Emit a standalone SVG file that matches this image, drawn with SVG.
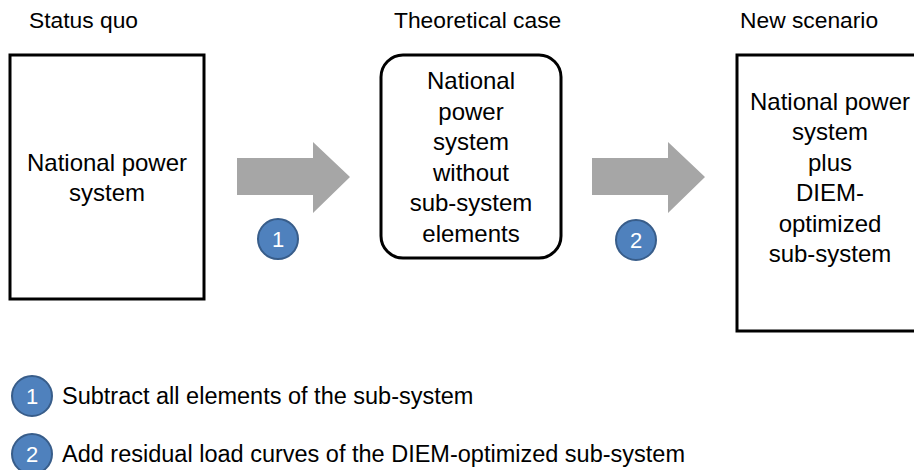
<svg xmlns="http://www.w3.org/2000/svg" width="914" height="470" viewBox="0 0 914 470">
<style>
  text { font-family: "Liberation Sans", Arial, sans-serif; fill: #000; }
  .title { font-size: 22.8px; }
  .body { font-size: 24px; text-anchor: middle; }
  .legend { font-size: 23.5px; }
  .box { fill: #fff; stroke: #000; stroke-width: 3; }
  .arrow { fill: #a6a6a6; }
  .badge circle { fill: #4f81bd; stroke: #385d8a; stroke-width: 2; }
  .badge text { fill: #fff; font-size: 22px; text-anchor: middle; }
</style>
<rect width="914" height="470" fill="#fff"/>

<text class="title" x="29" y="28">Status quo</text>
<text class="title" x="394" y="28">Theoretical case</text>
<text class="title" x="740" y="28">New scenario</text>

<g id="status-quo">
  <rect class="box" x="10" y="55" width="194" height="244"/>
  <text class="body" x="107" y="171">National power</text>
  <text class="body" x="107" y="201">system</text>
</g>

<g id="theoretical-case">
  <rect class="box" x="381" y="55" width="180" height="203" rx="22" ry="22"/>
  <text class="body" x="471" y="89">National</text>
  <text class="body" x="471" y="119.5">power</text>
  <text class="body" x="471" y="150">system</text>
  <text class="body" x="471" y="180.5">without</text>
  <text class="body" x="471" y="211">sub-system</text>
  <text class="body" x="471" y="241.5">elements</text>
</g>

<g id="new-scenario">
  <rect class="box" x="737" y="55" width="200" height="276"/>
  <text class="body" x="830" y="110">National power</text>
  <text class="body" x="830" y="140.4">system</text>
  <text class="body" x="830" y="170.8">plus</text>
  <text class="body" x="830" y="201.2">DIEM-</text>
  <text class="body" x="830" y="231.6">optimized</text>
  <text class="body" x="830" y="262">sub-system</text>
</g>

<g id="connectors">
  <polygon class="arrow" points="237,158 313,158 313,142 350,177 313,213 313,195 237,195"/>
  <polygon class="arrow" points="592,158 668,158 668,142 705,177 668,213 668,195 592,195"/>
</g>

<g id="badge-1" class="badge">
  <circle cx="278" cy="239" r="20"/>
  <text x="278" y="247">1</text>
</g>
<g id="badge-2" class="badge">
  <circle cx="636" cy="240" r="20"/>
  <text x="636" y="248">2</text>
</g>

<g id="legend-1">
  <g class="badge">
    <circle cx="32" cy="396" r="20"/>
    <text x="32" y="404">1</text>
  </g>
  <text class="legend" x="62" y="404">Subtract all elements of the sub-system</text>
</g>
<g id="legend-2">
  <g class="badge">
    <circle cx="32" cy="454" r="20"/>
    <text x="32" y="462">2</text>
  </g>
  <text class="legend" x="62" y="462">Add residual load curves of the DIEM-optimized sub-system</text>
</g>
</svg>
